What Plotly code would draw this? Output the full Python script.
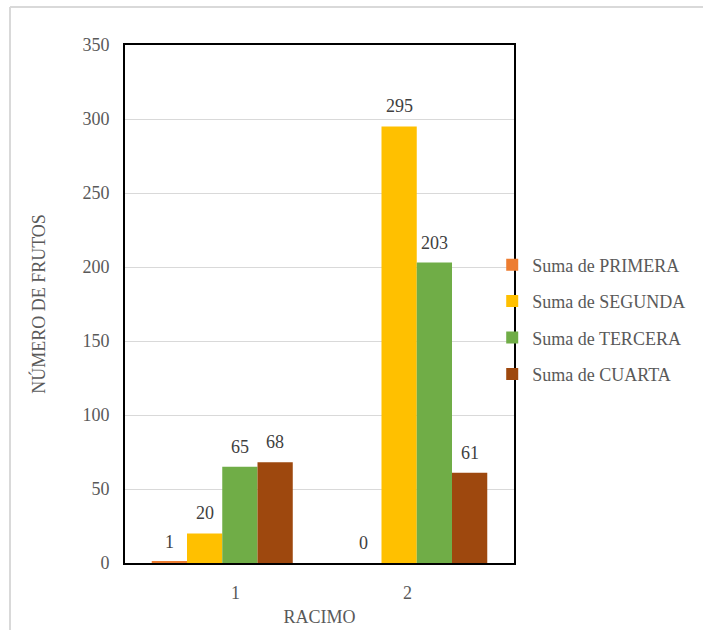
import plotly.graph_objects as go

# Cluster categories and the four series
racimos = [1, 2]
series_names = ["Suma de PRIMERA", "Suma de SEGUNDA", "Suma de TERCERA", "Suma de CUARTA"]
primera = [1, 0]
segunda = [20, 295]
tercera = [65, 203]
cuarta = [68, 61]
y_ticks = [0, 50, 100, 150, 200, 250, 300, 350]

colors = ["#ED7D31", "#FFC000", "#70AD47", "#9E480E"]
series_values = [primera, segunda, tercera, cuarta]

FONT = "'Liberation Serif', 'Times New Roman', serif"
GAP = 0.275
n = len(series_values)
bar_w = (1 - GAP) / n

fig = go.Figure()
for i, (name, vals, col) in enumerate(zip(series_names, series_values, colors)):
    fig.add_trace(go.Bar(
        x=racimos, y=vals, name=name, marker_color=col,
        marker_line_width=0, legendgroup=name,
    ))

# value labels above each bar
for i, vals in enumerate(series_values):
    for cat, v in zip(racimos, vals):
        fig.add_annotation(
            x=cat + (i - (n - 1) / 2) * bar_w, y=v, xref="x", yref="y",
            text=str(v), showarrow=False, yanchor="bottom", yshift=8,
            font=dict(family=FONT, size=18, color="#404040"),
        )

# category labels under the axis
for cat, xp in zip(racimos, [0.283, 0.725]):
    fig.add_annotation(
        x=xp, y=-0.058, xref="paper", yref="paper", text=str(cat),
        xanchor="center", yanchor="middle",
        showarrow=False, font=dict(family=FONT, size=18, color="#595959"),
    )

# outer chart frame (left and top edges)
frame = dict(color="#D9D9D9", width=2)
fig.add_shape(type="line", xref="paper", yref="paper",
              x0=-0.2956, x1=-0.2956, y0=-0.2, y1=1.0734, line=frame, layer="below")
fig.add_shape(type="line", xref="paper", yref="paper",
              x0=-0.2956, x1=1.6, y0=1.0734, y1=1.0734, line=frame, layer="below")

fig.update_layout(
    width=703, height=630,
    margin=dict(l=125, r=189, t=45, b=67, autoexpand=False),
    paper_bgcolor="white", plot_bgcolor="white",
    barmode="group", bargap=GAP, bargroupgap=0,
    font=dict(family=FONT, size=18, color="#595959"),
    showlegend=True,
    legend=dict(
        x=0.944, y=0.611, xanchor="left", yanchor="top",
        bgcolor="rgba(0,0,0,0)", traceorder="grouped", tracegroupgap=10,
        font=dict(family=FONT, size=18, color="#595959"),
        itemwidth=30,
    ),
    xaxis=dict(
        range=[0.5, 2.5], showticklabels=False, ticks="", showgrid=False,
        zeroline=False, showline=True, linecolor="black", linewidth=2, mirror=True,
        automargin=False,
        title=dict(text="RACIMO", standoff=46,
                   font=dict(family=FONT, size=18, color="#595959")),
    ),
    yaxis=dict(
        range=[0, 350], tickvals=y_ticks, ticks="", ticklabelstandoff=10,
        showgrid=True, gridcolor="#D9D9D9", gridwidth=1, zeroline=False,
        showline=True, linecolor="black", linewidth=2, mirror=True,
        automargin=False,
        title=dict(text="NÚMERO DE FRUTOS", standoff=32,
                   font=dict(family=FONT, size=18, color="#595959")),
        tickfont=dict(family=FONT, size=18, color="#595959"),
    ),
)

fig.write_html("out.html")
